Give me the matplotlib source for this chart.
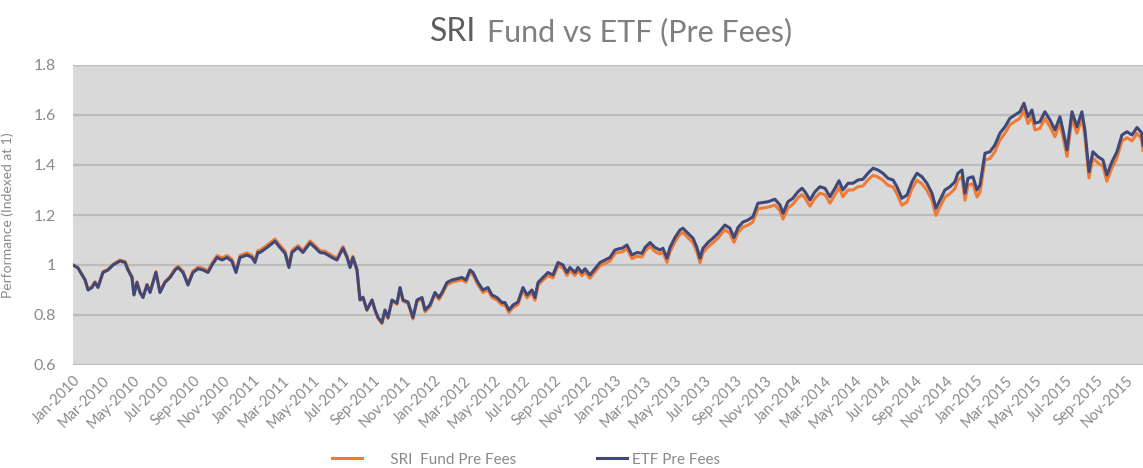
import matplotlib
matplotlib.use('Agg')
import matplotlib.pyplot as plt
import matplotlib.dates as mdates
import numpy as np
import datetime as dt

# months since Jan-2010
months = [0.00, 0.33, 0.60, 0.80, 1.00, 1.26, 1.46, 1.66, 1.99, 2.33, 2.66, 3.12, 3.46, 3.65, 3.92, 4.05,
          4.25, 4.45, 4.65, 4.92, 5.12, 5.51, 5.78, 6.11, 6.45, 6.78, 6.98, 7.31, 7.64, 7.97, 8.31, 8.64,
          8.97, 9.24, 9.57, 9.90, 10.23, 10.56, 10.83, 11.10, 11.56, 11.89, 12.09, 12.29, 12.43, 12.89,
          13.42, 13.75, 14.09, 14.35, 14.55, 14.95, 15.28, 15.75, 16.08, 16.41, 16.74, 17.21, 17.54,
          17.94, 18.21, 18.41, 18.60, 18.87, 19.07, 19.27, 19.53, 19.87, 20.07, 20.27, 20.53, 20.73,
          20.93, 21.20, 21.53, 21.73, 21.93, 22.26, 22.59, 22.86, 23.19, 23.39, 23.72, 24.05, 24.32,
          24.52, 24.85, 25.18, 25.51, 25.85, 26.11, 26.38, 26.58, 26.91, 27.24, 27.57, 27.84, 28.17,
          28.50, 28.70, 28.97, 29.24, 29.57, 29.90, 30.17, 30.50, 30.70, 30.90, 31.23, 31.56, 31.89,
          32.23, 32.56, 32.82, 33.02, 33.36, 33.55, 33.82, 34.02, 34.35, 34.68, 35.02, 35.35, 35.68,
          36.01, 36.28, 36.48, 36.81, 37.14, 37.48, 37.81, 38.01, 38.34, 38.67, 39.00, 39.20, 39.47,
          39.67, 40.00, 40.33, 40.53, 40.86, 41.20, 41.46, 41.66, 41.86, 42.19, 42.52, 42.86, 43.32,
          43.65, 43.92, 44.19, 44.52, 44.85, 45.18, 45.51, 45.85, 46.18, 46.64, 46.98, 47.18, 47.51,
          47.84, 48.17, 48.44, 48.64, 48.97, 49.30, 49.63, 49.97, 50.30, 50.63, 50.90, 51.16, 51.50,
          51.83, 52.16, 52.49, 52.82, 53.16, 53.49, 53.82, 54.15, 54.49, 54.75, 55.08, 55.42, 55.75,
          56.08, 56.41, 56.74, 57.08, 57.34, 57.61, 57.94, 58.27, 58.60, 58.80, 59.07, 59.27, 59.47,
          59.80, 60.07, 60.27, 60.60, 60.93, 61.26, 61.59, 61.93, 62.26, 62.59, 62.92, 63.19, 63.46,
          63.72, 63.92, 64.25, 64.58, 64.92, 65.25, 65.58, 65.78, 66.05, 66.38, 66.71, 67.04, 67.24,
          67.51, 67.77, 68.11, 68.44, 68.70, 69.04, 69.37, 69.70, 70.03, 70.37, 70.70, 71.00, 71.10]

etf = [1.000, 0.988, 0.960, 0.940, 0.900, 0.910, 0.930, 0.910, 0.970, 0.980, 1.000, 1.016, 1.010, 0.980,
       0.950, 0.880, 0.930, 0.890, 0.870, 0.920, 0.890, 0.970, 0.890, 0.930, 0.950, 0.980, 0.990, 0.970,
       0.920, 0.970, 0.985, 0.980, 0.970, 1.000, 1.030, 1.020, 1.030, 1.015, 0.970, 1.030, 1.040, 1.030,
       1.010, 1.050, 1.050, 1.070, 1.095, 1.070, 1.047, 0.990, 1.050, 1.070, 1.050, 1.088, 1.070, 1.050,
       1.047, 1.030, 1.020, 1.067, 1.030, 0.990, 1.030, 0.980, 0.860, 0.870, 0.820, 0.860, 0.820, 0.790,
       0.770, 0.820, 0.790, 0.860, 0.847, 0.910, 0.860, 0.852, 0.790, 0.860, 0.870, 0.820, 0.840, 0.890,
       0.870, 0.890, 0.930, 0.940, 0.945, 0.950, 0.940, 0.980, 0.970, 0.930, 0.900, 0.910, 0.880, 0.870,
       0.850, 0.850, 0.820, 0.840, 0.852, 0.910, 0.880, 0.900, 0.870, 0.930, 0.950, 0.970, 0.960, 1.010,
       1.000, 0.970, 0.990, 0.970, 0.990, 0.970, 0.985, 0.960, 0.985, 1.010, 1.020, 1.030, 1.060, 1.065,
       1.067, 1.080, 1.040, 1.050, 1.047, 1.070, 1.090, 1.070, 1.060, 1.067, 1.027, 1.070, 1.110, 1.140,
       1.147, 1.127, 1.107, 1.070, 1.027, 1.067, 1.090, 1.107, 1.127, 1.160, 1.147, 1.110, 1.150, 1.172,
       1.180, 1.193, 1.247, 1.250, 1.253, 1.263, 1.240, 1.207, 1.253, 1.267, 1.293, 1.307, 1.293, 1.260,
       1.293, 1.313, 1.307, 1.273, 1.307, 1.337, 1.300, 1.327, 1.327, 1.340, 1.343, 1.367, 1.387, 1.380,
       1.367, 1.347, 1.340, 1.313, 1.267, 1.280, 1.333, 1.367, 1.353, 1.327, 1.287, 1.227, 1.260, 1.300,
       1.313, 1.333, 1.367, 1.380, 1.287, 1.347, 1.353, 1.300, 1.320, 1.447, 1.453, 1.480, 1.527, 1.553,
       1.587, 1.600, 1.613, 1.647, 1.593, 1.620, 1.567, 1.573, 1.613, 1.580, 1.540, 1.593, 1.540, 1.460,
       1.613, 1.553, 1.613, 1.540, 1.373, 1.453, 1.433, 1.420, 1.360, 1.413, 1.453, 1.520, 1.533, 1.520,
       1.550, 1.530, 1.480]

sri = [1.000, 0.990, 0.962, 0.942, 0.903, 0.913, 0.933, 0.913, 0.973, 0.983, 1.003, 1.020, 1.014, 0.984,
       0.953, 0.882, 0.933, 0.892, 0.872, 0.923, 0.892, 0.974, 0.893, 0.934, 0.954, 0.985, 0.995, 0.975,
       0.925, 0.976, 0.991, 0.987, 0.977, 1.008, 1.038, 1.028, 1.038, 1.023, 0.977, 1.038, 1.048, 1.038,
       1.018, 1.058, 1.059, 1.079, 1.104, 1.079, 1.055, 0.997, 1.058, 1.078, 1.058, 1.096, 1.078, 1.058,
       1.055, 1.038, 1.027, 1.074, 1.036, 0.995, 1.035, 0.984, 0.862, 0.872, 0.820, 0.860, 0.818, 0.787,
       0.765, 0.817, 0.786, 0.857, 0.843, 0.906, 0.855, 0.847, 0.784, 0.854, 0.864, 0.813, 0.833, 0.883,
       0.862, 0.882, 0.921, 0.931, 0.936, 0.941, 0.931, 0.971, 0.961, 0.920, 0.890, 0.900, 0.870, 0.860,
       0.840, 0.840, 0.810, 0.830, 0.842, 0.899, 0.869, 0.889, 0.859, 0.919, 0.939, 0.958, 0.948, 0.998,
       0.988, 0.958, 0.978, 0.958, 0.977, 0.957, 0.972, 0.947, 0.972, 0.997, 1.006, 1.016, 1.046, 1.051,
       1.052, 1.065, 1.025, 1.035, 1.032, 1.055, 1.075, 1.054, 1.044, 1.051, 1.010, 1.053, 1.093, 1.123,
       1.130, 1.110, 1.089, 1.052, 1.009, 1.049, 1.072, 1.088, 1.108, 1.141, 1.127, 1.090, 1.130, 1.152,
       1.159, 1.172, 1.225, 1.228, 1.231, 1.240, 1.217, 1.184, 1.229, 1.243, 1.269, 1.282, 1.268, 1.235,
       1.267, 1.287, 1.281, 1.247, 1.281, 1.310, 1.273, 1.300, 1.300, 1.313, 1.316, 1.340, 1.359, 1.352,
       1.339, 1.319, 1.312, 1.285, 1.239, 1.252, 1.305, 1.339, 1.325, 1.299, 1.259, 1.198, 1.232, 1.272,
       1.285, 1.305, 1.339, 1.352, 1.259, 1.319, 1.325, 1.272, 1.292, 1.420, 1.426, 1.453, 1.500, 1.527,
       1.561, 1.574, 1.587, 1.620, 1.566, 1.593, 1.540, 1.546, 1.586, 1.553, 1.513, 1.566, 1.513, 1.434,
       1.587, 1.527, 1.587, 1.514, 1.348, 1.428, 1.408, 1.395, 1.335, 1.389, 1.429, 1.496, 1.509, 1.496,
       1.526, 1.506, 1.458]

y_ticks = [0.6, 0.8, 1.0, 1.2, 1.4, 1.6, 1.8]
y_tick_labels = ['0.6', '0.8', '1', '1.2', '1.4', '1.6', '1.8']

plt.rcParams['font.family'] = ['Lato', 'DejaVu Sans']

grey_text = '#8a8a8a'
orange = '#f07b35'
navy = '#404878'

start = mdates.date2num(dt.datetime(2010, 1, 1))
days_per_month = 365.25 / 12
x = start + np.array(months) * days_per_month

fig = plt.figure(figsize=(11.43, 4.68), dpi=100)
ax = fig.add_axes([73 / 1143, 1 - 365 / 468, 1 - 73 / 1143, 300 / 468])
ax.set_facecolor('#d9d9d9')

ax.plot(x, sri, color=orange, linewidth=2.2, label='      SRI  Fund Pre Fees', solid_joinstyle='round')
ax.plot(x, etf, color=navy, linewidth=2.2, label='ETF Pre Fees', solid_joinstyle='round')

ax.set_xlim(start, start + 71.1 * days_per_month)
ax.set_ylim(0.6, 1.8)
ax.set_yticks(y_ticks)
ax.set_yticklabels(y_tick_labels)
ax.grid(axis='y', color='#bcbcbc', linewidth=1.6)
ax.set_axisbelow(True)
for s in ax.spines.values():
    s.set_visible(False)

ax.xaxis.set_major_locator(mdates.MonthLocator(bymonth=[1, 3, 5, 7, 9, 11]))
ax.xaxis.set_major_formatter(mdates.DateFormatter('%b-%Y'))
ax.tick_params(axis='both', length=0, colors=grey_text)
ax.tick_params(axis='y', labelsize=11.5, pad=12)
ax.tick_params(axis='x', labelsize=10.5, pad=6)
plt.setp(ax.get_xticklabels(), rotation=45, ha='right', rotation_mode='anchor')

ax.set_ylabel('Performance (Indexed at 1)', color=grey_text, fontsize=10, labelpad=14)

fig.text(430 / 1143, 1 - 41 / 468, 'SRI', fontsize=23, color='#5e5e5e', va='baseline')
fig.text(487 / 1143, 1 - 41 / 468, 'Fund vs ETF (Pre Fees)', fontsize=22, color='#808080', va='baseline')

leg = fig.legend(loc='center left', bbox_to_anchor=(330 / 1143, 0.018), ncol=2, frameon=False,
                 fontsize=11, handlelength=2.0, columnspacing=5.3, handletextpad=0.3,
                 borderpad=0.1, borderaxespad=0)
for t in leg.get_texts():
    t.set_color(grey_text)

fig.savefig('out.png', dpi=100)
